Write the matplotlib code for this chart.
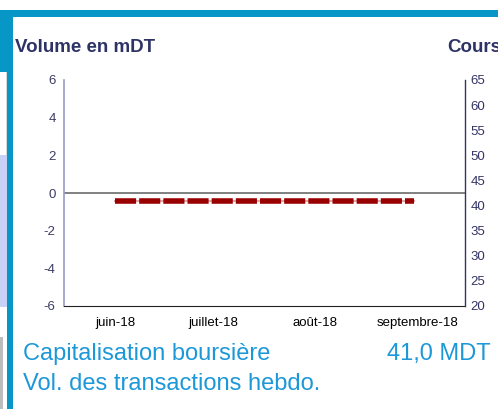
import matplotlib
matplotlib.use("Agg")
import matplotlib.pyplot as plt
import matplotlib.dates as mdates
from matplotlib.patches import Rectangle
import numpy as np
import pandas as pd

# weekly data
dates = pd.date_range("2018-06-01", "2018-08-31", freq="7D")
cours = [41.0] * len(dates)
volume = [0.0] * len(dates)
month_ticks = pd.to_datetime(["2018-06-01", "2018-07-01", "2018-08-01", "2018-09-01"])
month_labels = ["juin-18", "juillet-18", "août-18", "septembre-18"]
left_ticks = [-6, -4, -2, 0, 2, 4, 6]
right_ticks = [20, 25, 30, 35, 40, 45, 50, 55, 60, 65]

plt.rcParams['font.family'] = ['Liberation Sans', 'DejaVu Sans']
plt.rcParams['axes.unicode_minus'] = False

W, H = 498, 409
fig = plt.figure(figsize=(W / 100, H / 100), dpi=100)
fig.patch.set_facecolor("white")

def px_rect(x, y, w, h, color):
    fig.add_artist(Rectangle((x / W, 1 - (y + h) / H), w / W, h / H,
                             transform=fig.transFigure, facecolor=color,
                             edgecolor="none"))

blue = "#0797C6"
px_rect(0, 10, W, 7, blue)
px_rect(0, 10, 13, 62, blue)
px_rect(7, 10, 6, H, blue)
px_rect(0, 155, 7, 152, "#C9D1F7")
px_rect(6, 72, 1, 83, "#D8D8D8")
px_rect(0, 337, 3, 72, "#BDBDBD")

ax = fig.add_axes([64 / W, 1 - 306 / H, (465 - 64) / W, (306 - 80) / H])
ax2 = ax.twinx()

ax.bar(dates, volume, width=4, color="#333366")
ax.axhline(0, color="#808080", lw=1.4, zorder=1)
ax.set_ylim(-6, 6)
ax.set_yticks(left_ticks)
ax.set_xlim(mdates.date2num(pd.Timestamp("2018-05-16 12:00")),
            mdates.date2num(pd.Timestamp("2018-09-15 14:00")))
ax.set_xticks(month_ticks)
ax.set_xticklabels(month_labels)
ax.tick_params(axis="x", length=0, pad=8, labelsize=9.5, colors="black")
ax.tick_params(axis="y", length=0, pad=6, labelsize=9.5, labelcolor="#3C3C64")

ax2.plot(dates, cours, color="#E2A6A6", lw=1.6, zorder=2)
ax2.plot(dates, cours, color="#990000", lw=4.0, dashes=(3.8, 0.55),
         dash_capstyle="butt", zorder=3)
ax2.set_ylim(20, 65)
ax2.set_yticks(right_ticks)
ax2.tick_params(axis="y", length=0, pad=4, labelsize=9.5, labelcolor="#333366")

for a in (ax, ax2):
    a.spines["top"].set_visible(False)
    a.set_facecolor("none")
ax.spines["left"].set_color("#9A9AC8")
ax.spines["left"].set_linewidth(1.2)
ax.spines["right"].set_visible(False)
ax2.spines["left"].set_visible(False)
ax2.spines["right"].set_color("#333366")
ax2.spines["right"].set_linewidth(1.0)
ax.spines["bottom"].set_color("#222222")
ax2.spines["bottom"].set_visible(False)

fig.text(15 / W, 1 - 47 / H, "Volume en mDT", fontsize=13.5, fontweight="bold",
         color="#2E3366", va="center", ha="left")
fig.text(447 / W, 1 - 47 / H, "Cours", fontsize=13.5, fontweight="bold",
         color="#2E3366", va="center", ha="left")

txt_blue = "#1C98D8"
fig.text(23 / W, 1 - 360 / H, "Capitalisation boursière", fontsize=17,
         color=txt_blue, va="baseline", ha="left")
fig.text(491 / W, 1 - 360 / H, "41,0 MDT", fontsize=17,
         color=txt_blue, va="baseline", ha="right")
fig.text(23 / W, 1 - 390 / H, "Vol. des transactions hebdo.", fontsize=17,
         color=txt_blue, va="baseline", ha="left")

fig.savefig("out.png", dpi=100)
